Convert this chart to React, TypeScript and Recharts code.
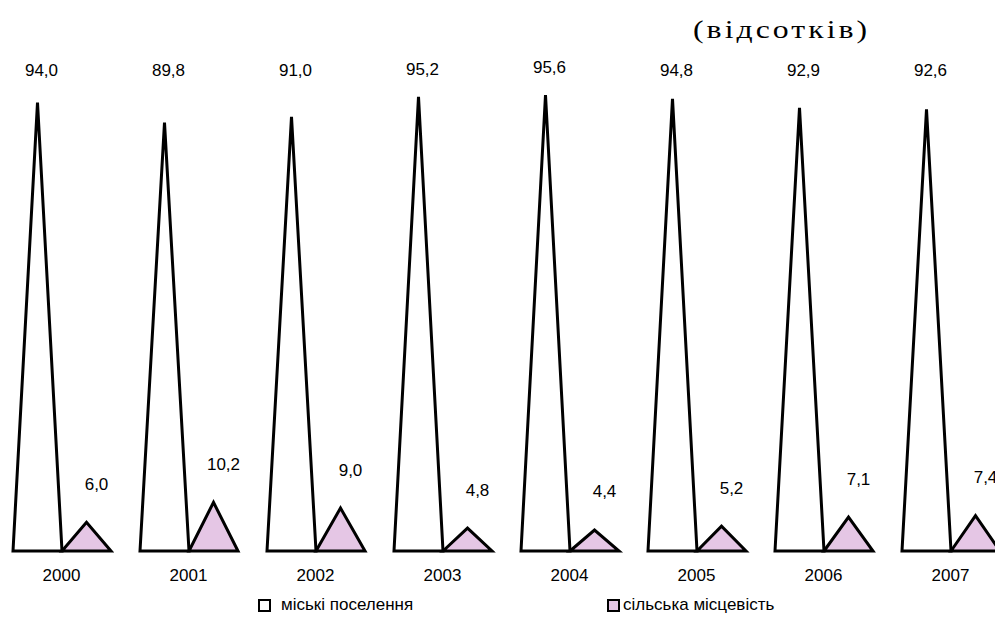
import React from 'react'
import { BarChart, Bar, XAxis, YAxis, Legend, LabelList } from 'recharts'

const years = ['2000', '2001', '2002', '2003', '2004', '2005', '2006', '2007']
const urban = [94.0, 89.8, 91.0, 95.2, 95.6, 94.8, 92.9, 92.6]
const rural = [6.0, 10.2, 9.0, 4.8, 4.4, 5.2, 7.1, 7.4]

const data = years.map((year, i) => ({ year, urban: urban[i], rural: rural[i] }))

const FONT = '"Liberation Sans", Arial, sans-serif'
const PINK = '#e5c6e5'

const Triangle = (props: any) => {
  const { x, y, width, height, fill } = props
  if (height == null || width == null) return null
  const d = `M${x},${y + height} L${x + width / 2},${y} L${x + width},${y + height} Z`
  return <path d={d} fill={fill} stroke="#000" strokeWidth={3} strokeLinejoin="miter" />
}

const fmt = (v: number) => v.toFixed(1).replace('.', ',')

// white labels sit in a row near the top, pink ones float above their triangle
const makeLabel = (lift: number, shift: number, maxY: number) => (props: any) => {
  const { x, y, width, value } = props
  const ty = Math.min(y - lift, maxY)
  return (
    <text x={x + width / 2 + shift} y={ty} textAnchor="middle" dominantBaseline="middle"
      fontFamily={FONT} fontSize={17} fill="#000">
      {fmt(value)}
    </text>
  )
}

const LegendBox = () => (
  <div style={{ position: 'relative', height: 24, fontFamily: FONT, fontSize: 17, color: '#000' }}>
    <div style={{ position: 'absolute', left: 270, top: 0, display: 'flex', alignItems: 'center' }}>
      <span style={{ width: 9, height: 9, border: '2px solid #000', background: '#fff', marginRight: 10 }} />
      <span>міські поселення</span>
    </div>
    <div style={{ position: 'absolute', left: 619, top: 0, display: 'flex', alignItems: 'center' }}>
      <span style={{ width: 9, height: 9, border: '2px solid #000', background: PINK, marginRight: 3 }} />
      <span>сільська місцевість</span>
    </div>
  </div>
)

export default function App() {
  return (
    <div style={{ margin: -8, width: 1003, height: 637, overflow: 'hidden', position: 'relative', background: '#fff' }}>
      <div style={{ position: 'absolute', left: 693, top: 15, fontFamily: '"Liberation Serif", "Times New Roman", serif',
        fontSize: 26, letterSpacing: 2.5, transform: 'scaleX(1.22)', transformOrigin: 'left center', whiteSpace: 'nowrap' }}>
        (відсотків)
      </div>
      <div style={{ position: 'absolute', left: -12, top: 0 }}>
        <BarChart width={1040} height={637} data={data}
          margin={{ top: 74, right: 14, left: 10, bottom: 32 }}
          barCategoryGap={15} barGap={0}>
          <XAxis dataKey="year" axisLine={false} tickLine={false} height={30} tickMargin={12}
            tick={{ fontFamily: FONT, fontSize: 17, fill: '#000' }} interval={0} />
          <YAxis hide domain={[0, 100]} />
          <Legend verticalAlign="bottom" content={() => <LegendBox />}
            wrapperStyle={{ left: 0, bottom: 18, width: 1040 }} />
          <Bar dataKey="urban" fill="#fff" shape={<Triangle />} isAnimationActive={false}>
            <LabelList dataKey="urban" content={makeLabel(26, 4, 72)} />
          </Bar>
          <Bar dataKey="rural" fill={PINK} shape={<Triangle />} isAnimationActive={false}>
            <LabelList dataKey="rural" content={makeLabel(37, 10, 1000)} />
          </Bar>
        </BarChart>
      </div>
    </div>
  )
}
